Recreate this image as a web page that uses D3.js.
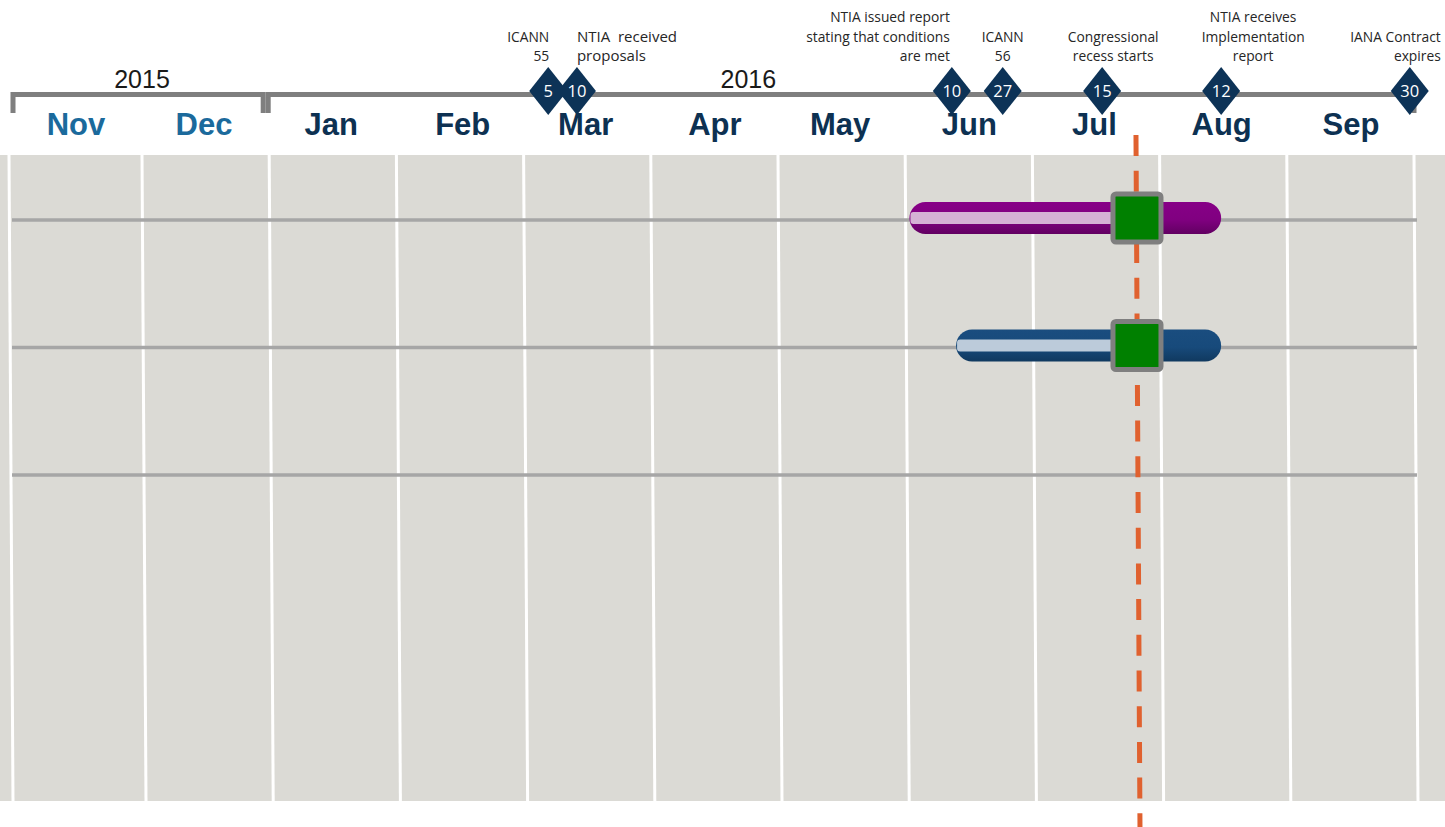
<!DOCTYPE html>
<html>
<head>
<meta charset="utf-8">
<script src="https://cdn.jsdelivr.net/npm/d3@7"></script>
<style>
  body { margin: 0; background: #fff; }
  svg { display: block; }
  .month text { font-family: "Liberation Sans", Arial, sans-serif; font-weight: bold; font-size: 31px; }
  .year { font-family: "Liberation Sans", Arial, sans-serif; font-size: 25px; fill: #1a1a1a; }
  .note { font-family: "Open Sans", sans-serif; font-size: 13.8px; fill: #262626; }
  .day { font-family: "Open Sans", sans-serif; font-size: 16.5px; fill: #fff; }
</style>
</head>
<body>
<svg id="chart" width="1445" height="827"></svg>
<script>
// month columns and tick labels
const monthLabels = ["Nov", "Dec", "Jan", "Feb", "Mar", "Apr", "May", "Jun", "Jul", "Aug", "Sep"];
const years = ["2015", "2016"];
const yearLabelDates = ["2015-12-01", "2016-04-24"];

// milestones (marker placed where it sits in the picture)
const milestoneDates = ["2016-03-07", "2016-03-14", "2016-06-12", "2016-06-24", "2016-07-18", "2016-08-16", "2016-09-30"];
const milestoneDays = ["5", "10", "10", "27", "15", "12", "30"];
const milestoneNotes = [
  ["ICANN", "55"],
  ["NTIA  received", "proposals"],
  ["NTIA issued report", "stating that conditions", "are met"],
  ["ICANN", "56"],
  ["Congressional", "recess starts"],
  ["NTIA receives", "Implementation", "report"],
  ["IANA Contract", "expires"]
];

// task rows
const rows = ["row1", "row2", "row3"];
const taskRow = ["row1", "row2"];
const taskStart = ["2016-06-02", "2016-06-13"];
const taskEnd = ["2016-08-16", "2016-08-16"];
const today = "2016-07-26";

const parse = d3.timeParse("%Y-%m-%d");
const svg = d3.select("#chart");

const monthStarts = d3.timeMonth.range(new Date(2015, 10, 1), new Date(2016, 10, 1));
// equal-width month columns, the first one a bit wider
const x = d3.scaleTime()
  .domain(monthStarts)
  .range(monthStarts.map((d, i) => (i === 0 ? 9 : 142 + (i - 1) * 127.2)));

const panelTop = 155, panelBottom = 801, skew = 4;

const y = d3.scalePoint().domain(rows).range([220, 475]);

// background panel
svg.append("rect")
  .attr("x", 0).attr("y", panelTop)
  .attr("width", 1445).attr("height", panelBottom - panelTop)
  .attr("fill", "#dbdad5");

// month gridlines (slightly slanted like the original)
svg.append("g")
  .selectAll("line")
  .data(monthStarts)
  .join("line")
  .attr("x1", (d) => x(d))
  .attr("x2", (d) => x(d) + skew)
  .attr("y1", panelTop)
  .attr("y2", panelBottom)
  .attr("stroke", "#fff")
  .attr("stroke-width", 3);

// row lines
svg.append("g")
  .selectAll("line")
  .data(rows)
  .join("line")
  .attr("x1", 12)
  .attr("x2", x(monthStarts[monthStarts.length - 1]) + 3)
  .attr("y1", (d) => y(d))
  .attr("y2", (d) => y(d))
  .attr("stroke", "#a6a6a6")
  .attr("stroke-width", 3.5);

// gradients for the bars
const defs = svg.append("defs");
const barColors = [
  { id: "gPurple", stops: ["#870087", "#800080", "#620062"], stripe: "#d5b1d5" },
  { id: "gBlue", stops: ["#1a4d7f", "#174a7b", "#10395f"], stripe: "#bccbda" }
];
barColors.forEach((c) => {
  const lg = defs.append("linearGradient").attr("id", c.id)
    .attr("x1", 0).attr("x2", 0).attr("y1", 0).attr("y2", 1);
  lg.append("stop").attr("offset", "0%").attr("stop-color", c.stops[0]);
  lg.append("stop").attr("offset", "55%").attr("stop-color", c.stops[1]);
  lg.append("stop").attr("offset", "100%").attr("stop-color", c.stops[2]);
});

const tasks = taskRow.map((r, i) => ({
  row: r,
  start: parse(taskStart[i]),
  end: parse(taskEnd[i]),
  color: barColors[i]
}));
const todayDate = parse(today);
const barH = 32;

const gBars = svg.append("g");
gBars.selectAll("rect.bar")
  .data(tasks)
  .join("rect")
  .attr("class", "bar")
  .attr("x", (d) => x(d.start))
  .attr("y", (d) => y(d.row) - 2 - barH / 2)
  .attr("width", (d) => x(d.end) - x(d.start))
  .attr("height", barH)
  .attr("rx", barH / 2)
  .attr("fill", (d) => `url(#${d.color.id})`);

gBars.selectAll("rect.stripe")
  .data(tasks)
  .join("rect")
  .attr("class", "stripe")
  .attr("x", (d) => x(d.start) + 1)
  .attr("y", (d) => y(d.row) - 8)
  .attr("width", (d) => x(todayDate) - x(d.start) - 1)
  .attr("height", 12)
  .attr("rx", 3)
  .attr("fill", (d) => d.color.stripe);

// today line
svg.append("line")
  .attr("x1", x(todayDate) + 1)
  .attr("x2", x(todayDate) + 1 + skew)
  .attr("y1", 135)
  .attr("y2", 827)
  .attr("stroke", "#e0612f")
  .attr("stroke-width", 5)
  .attr("stroke-dasharray", "21 14.7");

// status squares
const sq = 48;
svg.append("g")
  .selectAll("rect")
  .data(tasks)
  .join("rect")
  .attr("x", (d) => x(todayDate) + 2 - sq / 2)
  .attr("y", (d) => y(d.row) - 2 - sq / 2)
  .attr("width", sq)
  .attr("height", sq)
  .attr("rx", 3)
  .attr("fill", "#008000")
  .attr("stroke", "#7f7f7f")
  .attr("stroke-width", 5);

// month labels via an axis
const mids = monthLabels.map((m, i) => d3.timeDay.offset(monthStarts[i], 15));
const monthAxis = d3.axisBottom(x)
  .tickValues(mids)
  .tickFormat((d, i) => monthLabels[i])
  .tickSize(0)
  .tickPadding(0);
const gm = svg.append("g")
  .attr("class", "month")
  .attr("transform", "translate(0,135)")
  .call(monthAxis);
gm.select(".domain").remove();
gm.selectAll("text")
  .attr("dy", 0)
  .attr("fill", (d) => (d.getFullYear() === 2015 ? "#1b6a9c" : "#0d3152"));

// year brackets
const bracketY = 94.5, bracketTick = 113;
const yearSpans = [
  [x(monthStarts[0]) + 4, x(monthStarts[2]) - 6],
  [x(monthStarts[2]) - 1, x(monthStarts[11])]
];
svg.append("g")
  .selectAll("path")
  .data(yearSpans)
  .join("path")
  .attr("d", (d) => `M${d[0]},${bracketTick}V${bracketY}H${d[1]}V${bracketTick}`)
  .attr("fill", "none")
  .attr("stroke", "#7f7f7f")
  .attr("stroke-width", 5);

svg.append("g")
  .selectAll("text")
  .data(years)
  .join("text")
  .attr("class", "year")
  .attr("x", (d, i) => x(parse(yearLabelDates[i])))
  .attr("y", 88)
  .attr("text-anchor", "middle")
  .text((d) => d);

// milestones
const placement = [
  { anchor: "end", dx: 1 },
  { anchor: "start", dx: 0, size: 15 },
  { anchor: "end", dx: -2 },
  { anchor: "middle", dx: 0 },
  { anchor: "middle", dx: 11 },
  { anchor: "middle", dx: 32 },
  { anchor: "end", dx: 31 }
];
const milestones = milestoneDates.map((d, i) => ({
  date: parse(d),
  day: milestoneDays[i],
  note: milestoneNotes[i],
  place: placement[i]
}));

const gNotes = svg.append("g");
milestones.forEach((m) => {
  const t = gNotes.append("text")
    .attr("class", "note")
    .attr("text-anchor", m.place.anchor)
    .style("font-size", m.place.size ? m.place.size + "px" : null);
  const n = m.note.length;
  t.selectAll("tspan")
    .data(m.note)
    .join("tspan")
    .attr("x", x(m.date) + m.place.dx)
    .attr("y", (d, i) => 61 - (n - 1 - i) * 19.5)
    .style("white-space", "pre")
    .text((d) => d);
});

const dw = 19, dh = 24, dy = 91;
const gm2 = svg.append("g")
  .selectAll("g")
  .data(milestones)
  .join("g")
  .attr("transform", (d) => `translate(${x(d.date)},${dy})`);
gm2.append("path")
  .attr("d", `M0,${-dh}L${dw},0L0,${dh}L${-dw},0Z`)
  .attr("fill", "#0d3357");
gm2.append("text")
  .attr("class", "day")
  .attr("text-anchor", "middle")
  .attr("y", 6)
  .text((d) => d.day);
</script>
</body>
</html>
